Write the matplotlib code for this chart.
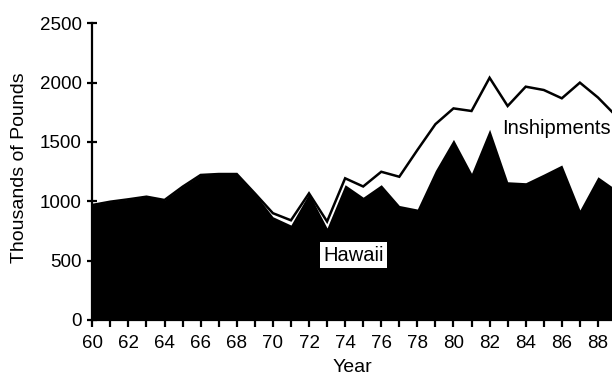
import matplotlib
matplotlib.use("Agg")
import matplotlib.pyplot as plt
from matplotlib.ticker import MultipleLocator

years = list(range(60, 90))
hawaii = [969, 997, 1017, 1039, 1011, 1123, 1222, 1230, 1230, 1067,
          870, 800, 1067, 775, 1140, 1035, 1140, 965, 935, 1260,
          1522, 1236, 1607, 1165, 1157, 1230, 1306, 927, 1207, 1100]
inshipments = [969, 997, 1017, 1039, 1011, 1123, 1222, 1230, 1230, 1067,
               900, 840, 1067, 830, 1194, 1125, 1249, 1207, 1432, 1650,
               1783, 1761, 2041, 1803, 1966, 1938, 1868, 2000, 1875, 1720]
xticks = list(range(60, 90, 2))
yticks = [0, 500, 1000, 1500, 2000, 2500]

plt.rcParams['font.family'] = ['Liberation Sans', 'DejaVu Sans']
W, H = 612, 377
fig = plt.figure(figsize=(W / 100, H / 100), dpi=100)
ax = fig.add_axes([92.3 / W, 57 / H, (616 - 92.3) / W, (320 - 23.3) / H])

ax.fill_between(years, 0, inshipments, color='white', zorder=1)
ax.fill_between(years, 0, hawaii, color='black', linewidth=0, zorder=2)
ax.plot(years, inshipments, color='black', linewidth=1.8, zorder=3,
        solid_joinstyle='miter')

ax.set_xlim(60, 89)
ax.set_ylim(0, 2500)
ax.set_xticks(xticks)
ax.set_xticklabels([str(t) for t in xticks])
ax.xaxis.set_minor_locator(MultipleLocator(1))
ax.set_yticks(yticks)
ax.set_yticklabels([str(t) for t in yticks])

for s in ['top', 'right']:
    ax.spines[s].set_visible(False)
for s in ['left', 'bottom']:
    ax.spines[s].set_linewidth(1.6)
    ax.spines[s].set_zorder(5)
ax.tick_params(axis='x', which='both', direction='out', length=5, width=1.6,
               labelsize=13.5, pad=6)
ax.tick_params(axis='y', which='both', direction='inout', length=7, width=1.6,
               labelsize=13.5, pad=4)

ax.text(74.46, 545, 'Hawaii', fontsize=14.5, ha='center', va='center',
        color='black', zorder=6,
        bbox=dict(facecolor='white', edgecolor='none', pad=2.5))
ax.text(82.69, 1617, 'Inshipments', fontsize=14.5, ha='left', va='center',
        color='black', zorder=6, clip_on=False)

fig.text(19.5 / W, 1 - 168 / H, 'Thousands of Pounds', rotation=90,
         fontsize=14, ha='center', va='center')
fig.text(352 / W, 1 - 368 / H, 'Year', fontsize=14, ha='center', va='center')

fig.savefig('out.png', dpi=100)
